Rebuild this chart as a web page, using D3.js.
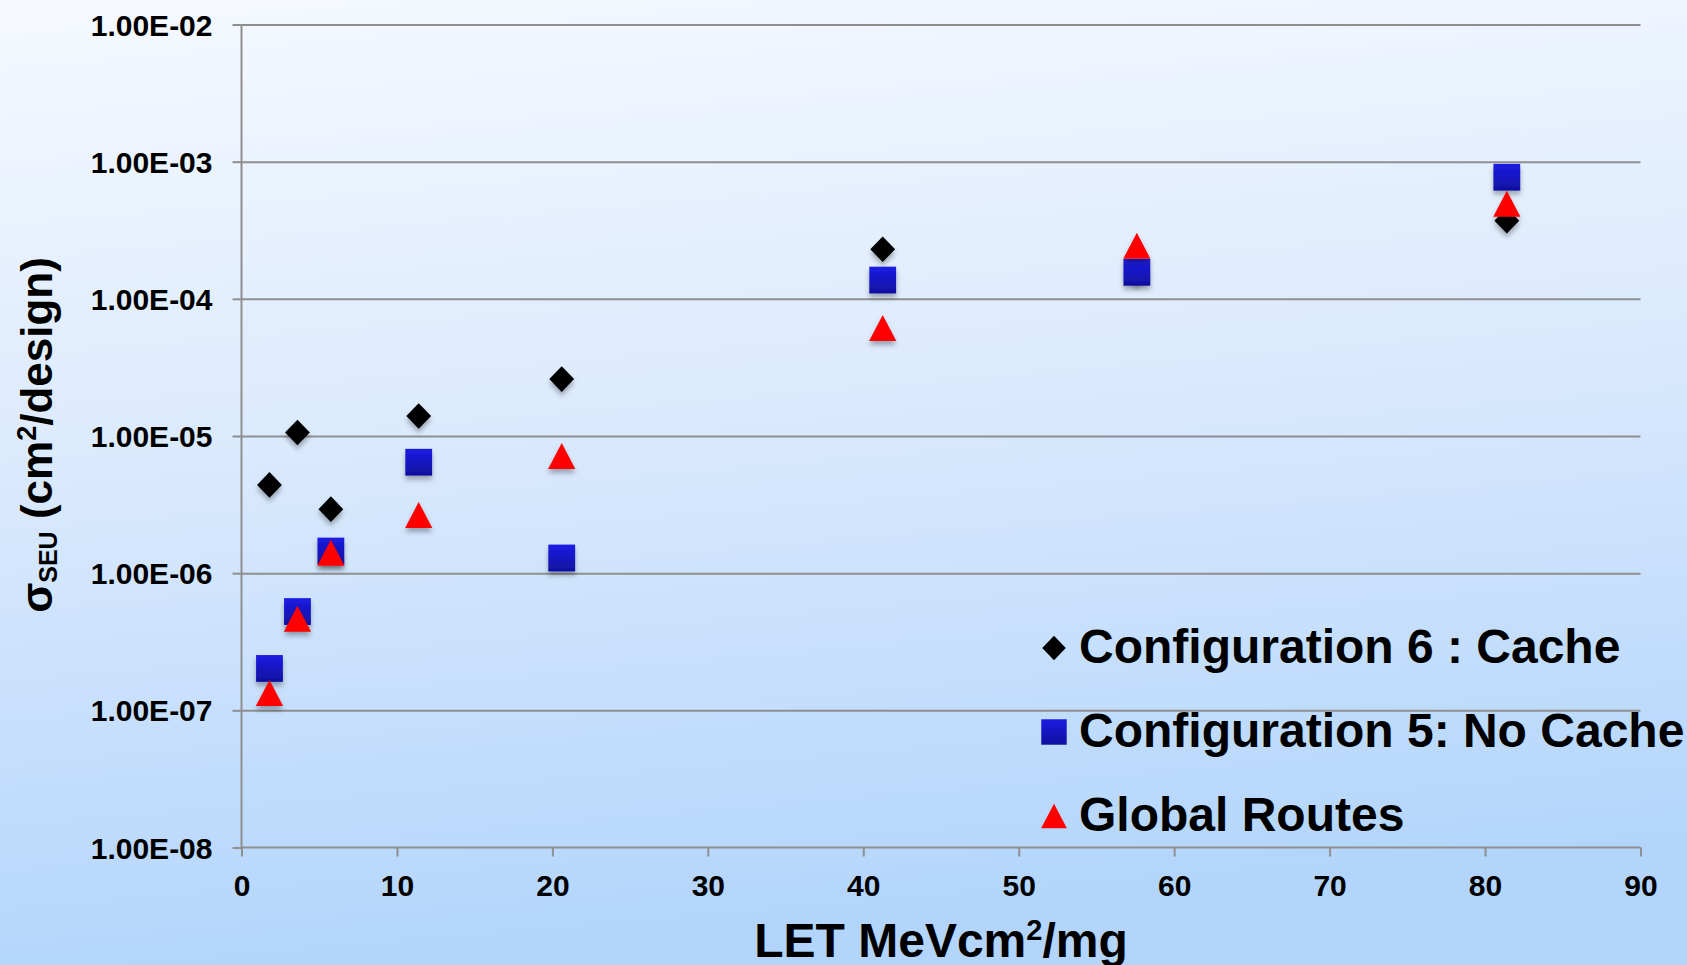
<!DOCTYPE html>
<html>
<head>
<meta charset="utf-8">
<script src="https://cdn.jsdelivr.net/npm/d3@7"></script>
<style>
    body { margin: 0; overflow: hidden; }
    text { font-family: "Liberation Sans", Arial, Helvetica, sans-serif; font-weight: bold; fill: #000; }
    .axis path, .axis line, .grid line { stroke: #8f8f8f; stroke-width: 2; }
    .grid path { display: none; }
</style>
</head>
<body>
<div id="chart"></div>
<script>
// LET values (MeV cm2/mg) shared by all three series
const letValues = [1.8, 3.6, 5.75, 11.4, 20.6, 41.25, 57.6, 81.4];
// cross sections, cm2/design
const cacheValues = [4.4e-6, 1.06e-5, 2.93e-6, 1.40e-5, 2.6e-5, 2.30e-4, 1.55e-4, 3.71e-4];
const noCacheValues = [2.02e-7, 5.25e-7, 1.45e-6, 6.44e-6, 1.29e-6, 1.37e-4, 1.56e-4, 7.7e-4];
const globalRouteValues = [1.34e-7, 4.66e-7, 1.41e-6, 2.66e-6, 7.16e-6, 6.14e-5, 2.44e-4, 4.94e-4];

const seriesNames = ["Configuration 6 : Cache", "Configuration 5: No Cache", "Global Routes"];
const xTickValues = [0, 10, 20, 30, 40, 50, 60, 70, 80, 90];
const yTickValues = [1e-8, 1e-7, 1e-6, 1e-5, 1e-4, 1e-3, 1e-2];

const W = 1687, H = 965;
const margin = { top: 24.5, right: 46.5, bottom: 117.5, left: 241.5 };
const plotW = W - margin.left - margin.right;
const plotH = H - margin.top - margin.bottom;

const svg = d3.select("#chart").append("svg").attr("width", W).attr("height", H);
const defs = svg.append("defs");

const bg = defs.append("linearGradient").attr("id", "bg").attr("x1", 0).attr("y1", 0).attr("x2", 0.15).attr("y2", 1);
bg.append("stop").attr("offset", 0).attr("stop-color", "#f6f9ff");
bg.append("stop").attr("offset", 0.5).attr("stop-color", "#d9e9fd");
bg.append("stop").attr("offset", 1).attr("stop-color", "#b3d5fb");

const sq = defs.append("linearGradient").attr("id", "sq").attr("x1", 0).attr("y1", 0).attr("x2", 0).attr("y2", 1);
sq.append("stop").attr("offset", 0).attr("stop-color", "#1c1ce4");
sq.append("stop").attr("offset", 1).attr("stop-color", "#10109e");

defs.append("filter").attr("id", "shadow").attr("x", -0.5).attr("y", -0.5).attr("width", 2).attr("height", 2)
    .append("feDropShadow").attr("dx", 0).attr("dy", 4).attr("stdDeviation", 2.5)
    .attr("flood-color", "#000").attr("flood-opacity", 0.3);

svg.append("rect").attr("width", W).attr("height", H).attr("fill", "url(#bg)");

const g = svg.append("g").attr("transform", `translate(${margin.left},${margin.top})`);

const x = d3.scaleLinear().domain([0, 90]).range([0, plotW]);
const y = d3.scaleLog().domain([1e-8, 1e-2]).range([plotH, 0]);

const expFormat = (d) => {
    const e = Math.round(Math.log10(d));
    const sign = e < 0 ? "-" : "+";
    return `1.00E${sign}${String(Math.abs(e)).padStart(2, "0")}`;
};

// horizontal gridlines
g.append("g").attr("class", "grid")
    .call(d3.axisLeft(y).tickValues(yTickValues.filter((d) => d > 1e-8)).tickSize(-plotW).tickFormat(""));

const yAxis = g.append("g").attr("class", "axis")
    .call(d3.axisLeft(y).tickValues(yTickValues).tickSize(9).tickPadding(20).tickFormat(expFormat));
yAxis.selectAll("text").attr("font-size", 30).attr("dy", "0.35em");
yAxis.select(".domain").attr("d", `M0,0V${plotH}`);

const xAxis = g.append("g").attr("class", "axis").attr("transform", `translate(0,${plotH})`)
    .call(d3.axisBottom(x).tickValues(xTickValues).tickSize(9).tickPadding(18));
xAxis.selectAll("text").attr("font-size", 30);
xAxis.select(".domain").attr("d", `M0,0H${plotW}`);

// marker shapes, centred on 0,0
const shapes = {
    diamond: "M0,-12.8L12.4,0L0,12.8L-12.4,0Z",
    square: "M-13.4,-13.4H13.4V13.4H-13.4Z",
    triangle: "M0,-13L13.6,13H-13.6Z",
};
const seriesDefs = [
    { name: seriesNames[0], values: cacheValues, shape: "diamond", fill: "#000" },
    { name: seriesNames[1], values: noCacheValues, shape: "square", fill: "url(#sq)" },
    { name: seriesNames[2], values: globalRouteValues, shape: "triangle", fill: "#ff0000" },
];

seriesDefs.forEach((s) => {
    g.append("g").selectAll("path")
        .data(s.values.map((v, i) => ({ x: letValues[i], y: v })))
        .join("path")
        .attr("d", shapes[s.shape])
        .attr("transform", (d) => `translate(${x(d.x)},${y(d.y)})`)
        .attr("fill", s.fill)
        .attr("filter", "url(#shadow)");
});

// legend
const legend = svg.append("g").attr("transform", "translate(1054,648)");
seriesDefs.forEach((s, i) => {
    const row = legend.append("g").attr("transform", `translate(0,${i * 84})`);
    row.append("path").attr("d", shapes[s.shape]).attr("fill", s.fill).attr("transform", "scale(0.95)");
    row.append("text").attr("x", 25).attr("y", 15).attr("font-size", 48).text(s.name);
});

// axis titles
const xt = svg.append("text")
    .attr("x", margin.left + plotW / 2).attr("y", 957)
    .attr("text-anchor", "middle").attr("font-size", 48);
xt.append("tspan").text("LET MeVcm");
xt.append("tspan").attr("font-size", 29).attr("dy", -17).text("2");
xt.append("tspan").attr("dy", 17).text("/mg");

const yt = svg.append("text")
    .attr("transform", "translate(52,435) rotate(-90)")
    .attr("text-anchor", "middle").attr("font-size", 44);
yt.append("tspan").text("σ");
yt.append("tspan").attr("font-size", 25).attr("dy", 5).text("SEU");
yt.append("tspan").attr("dy", -5).text(" (cm");
yt.append("tspan").attr("font-size", 27).attr("dy", -16).text("2");
yt.append("tspan").attr("dy", 16).text("/design)");
</script>
</body>
</html>
